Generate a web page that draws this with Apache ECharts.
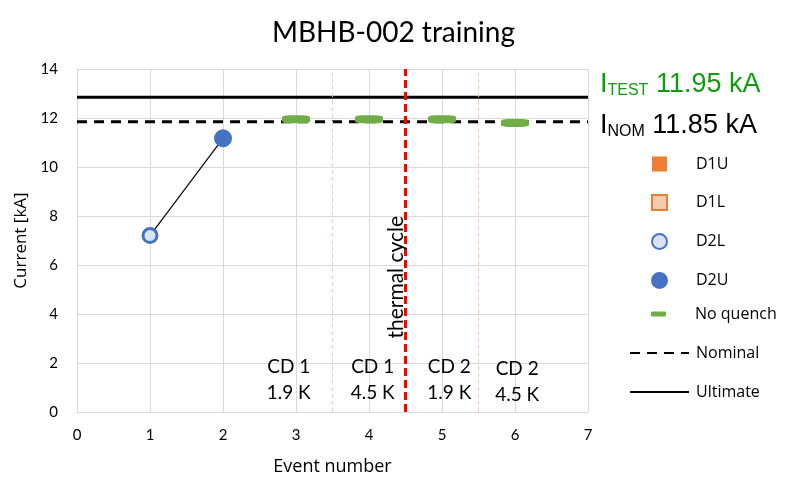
<!DOCTYPE html>
<html>
<head>
<meta charset="utf-8">
<title>MBHB-002 training</title>
<script src="https://cdn.jsdelivr.net/npm/echarts@6/dist/echarts.min.js"></script>
<style>
  html, body { margin: 0; padding: 0; background: #fff; }
  #main { width: 787px; height: 482px; }
</style>
</head>
<body>
<div id="main"></div>
<script>
// quench currents [event, kA]
var d1u = [];
var d1l = [];
var d2l = [[1, 7.2]];
var d2u = [[2, 11.17]];
var noQuench = [[3, 11.95], [4, 11.95], [5, 11.95], [6, 11.8]];
var nominal = 11.85;
var ultimate = 12.85;
var xRange = [0, 7];
var thermalCycle = 4.5;
var cooldownSplits = [3.5, 5.5];

// text boxes on the plot: [x, y, text]
var notes = [
    [2.9, 1.31, 'CD 1\n1.9 K'],
    [4.05, 1.31, 'CD 1\n4.5 K'],
    [5.1, 1.31, 'CD 2\n1.9 K'],
    [6.03, 1.22, 'CD 2\n4.5 K']
];

var FONT = 'Lato';
var FONT2 = 'Open Sans';
var chart = echarts.init(document.getElementById('main'), null, { renderer: 'canvas' });

var legendText = { fontFamily: FONT2, fontSize: 16, color: '#000', lineHeight: 16 };
var noSymbol = { color: 'rgba(0,0,0,0)', borderWidth: 0 };

var option = {
    animation: false,
    backgroundColor: '#fff',
    title: {
        text: 'MBHB-002 training',
        left: 'center',
        top: 14,
        textStyle: { fontFamily: FONT, fontSize: 28, fontWeight: 'normal', color: '#000' }
    },
    grid: { left: 77, right: 199, top: 69, bottom: 70 },
    xAxis: {
        type: 'value', min: 0, max: 7, interval: 1,
        name: 'Event number', nameLocation: 'middle', nameGap: 46,
        nameTextStyle: { fontFamily: FONT2, fontSize: 18, color: '#000' },
        axisLine: { lineStyle: { color: '#d9d9d9' } },
        axisTick: { show: false },
        axisLabel: { fontFamily: FONT, fontSize: 15, color: '#000', margin: 16 },
        splitLine: { lineStyle: { color: '#d9d9d9', width: 1 } }
    },
    yAxis: {
        type: 'value', min: 0, max: 14, interval: 2,
        name: 'Current [kA]', nameLocation: 'middle', nameGap: 46,
        nameTextStyle: { fontFamily: FONT2, fontSize: 17, color: '#000' },
        axisLine: { show: true, lineStyle: { color: '#d9d9d9' } },
        axisTick: { show: false },
        axisLabel: { fontFamily: FONT, fontSize: 15, color: '#000', margin: 19 },
        splitLine: { lineStyle: { color: '#d9d9d9', width: 1 } }
    },
    legend: [
        {
            data: ['D1U', 'D1L', 'D2L', 'D2U'],
            orient: 'vertical', left: 646, top: 151,
            itemWidth: 15, itemHeight: 15, itemGap: 22,
            textStyle: Object.assign({ padding: [0, 0, 0, 24] }, legendText)
        },
        {
            data: ['No quench'],
            orient: 'vertical', left: 646, top: 301,
            itemWidth: 15, itemHeight: 5,
            textStyle: Object.assign({ padding: [0, 0, 0, 24] }, legendText)
        },
        {
            data: ['Nominal', 'Ultimate'],
            orient: 'vertical', left: 624, top: 340,
            itemWidth: 59, itemHeight: 15, itemGap: 23,
            textStyle: Object.assign({ padding: [0, 0, 0, 2] }, legendText)
        }
    ],
    graphic: [
        {
            type: 'text', left: 600, top: 71,
            style: {
                text: '{i|I}{s|TEST}{v| 11.95 kA}',
                rich: {
                    i: { fontFamily: 'Liberation Sans', fontSize: 27, fill: '#0f9d0f' },
                    s: { fontFamily: 'Liberation Sans', fontSize: 16, fill: '#0f9d0f', padding: [12, 0, 0, 0] },
                    v: { fontFamily: 'Liberation Sans', fontSize: 27, fill: '#0f9d0f' }
                }
            }
        },
        {
            type: 'text', left: 600, top: 112,
            style: {
                text: '{i|I}{s|NOM}{v| 11.85 kA}',
                rich: {
                    i: { fontFamily: 'Liberation Sans', fontSize: 27, fill: '#000' },
                    s: { fontFamily: 'Liberation Sans', fontSize: 16, fill: '#000', padding: [12, 0, 0, 0] },
                    v: { fontFamily: 'Liberation Sans', fontSize: 27, fill: '#000' }
                }
            }
        }
    ],
    series: [
        {
            name: 'Ultimate', type: 'line', symbol: 'none', z: 3,
            data: [[xRange[0], ultimate], [xRange[1], ultimate]],
            itemStyle: noSymbol,
            lineStyle: { color: '#000', width: 3 }
        },
        {
            name: 'Nominal', type: 'line', symbol: 'none', z: 3,
            data: [[xRange[0], nominal], [xRange[1], nominal]],
            itemStyle: noSymbol,
            lineStyle: { color: '#000', width: 3, type: [10, 7] },
            markLine: {
                silent: true, symbol: 'none', label: { show: false },
                data: cooldownSplits.map(function (x) {
                    return { xAxis: x, lineStyle: { color: '#f8cbad', width: 1, type: [4, 3] } };
                }).concat([{ xAxis: thermalCycle, lineStyle: { color: '#ff0000', width: 3, type: [8, 4] } }])
            }
        },
        {
            name: 'link', type: 'line', symbol: 'none', z: 4,
            data: d2l.concat(d2u),
            lineStyle: { color: '#000', width: 1.2 }
        },
        {
            name: 'D1U', type: 'scatter', data: d1u, symbol: 'rect', symbolSize: 15,
            itemStyle: { color: '#ed7d31', opacity: 1 }
        },
        {
            name: 'D1L', type: 'scatter', data: d1l, symbol: 'rect', symbolSize: 12,
            itemStyle: { color: '#f8cbad', borderColor: '#ed7d31', borderWidth: 3, opacity: 1 }
        },
        {
            name: 'D2L', type: 'scatter', data: d2l, symbol: 'circle', symbolSize: 14, z: 5,
            itemStyle: { color: '#dae3f3', borderColor: '#4472c4', borderWidth: 3, opacity: 1 }
        },
        {
            name: 'D2U', type: 'scatter', data: d2u, symbol: 'circle', symbolSize: 17, z: 5,
            itemStyle: { color: '#4472c4', borderColor: '#4472c4', borderWidth: 1, opacity: 1 }
        },
        {
            name: 'No quench', type: 'scatter', data: noQuench, symbol: 'roundRect',
            symbolSize: [28, 8], symbolKeepAspect: false, z: 5,
            itemStyle: { color: '#70ad47', opacity: 1 }
        },
        {
            name: 'notes', type: 'scatter', symbolSize: 0, silent: true, z: 6,
            itemStyle: { opacity: 1 },
            data: notes.map(function (n) { return { value: [n[0], n[1]], name: n[2] }; }),
            label: {
                show: true, position: 'inside', formatter: '{b}',
                fontFamily: FONT, fontSize: 19, lineHeight: 26, color: '#000', align: 'center'
            }
        },
        {
            name: 'thermal', type: 'scatter', symbolSize: 0, silent: true, z: 6,
            itemStyle: { opacity: 1 },
            data: [{ value: [4.37, 5.5], name: 'thermal cycle' }],
            label: {
                show: true, position: 'inside', formatter: '{b}', rotate: 90,
                fontFamily: FONT, fontSize: 21, color: '#000'
            }
        }
    ]
};

chart.setOption(option);
</script>
</body>
</html>
